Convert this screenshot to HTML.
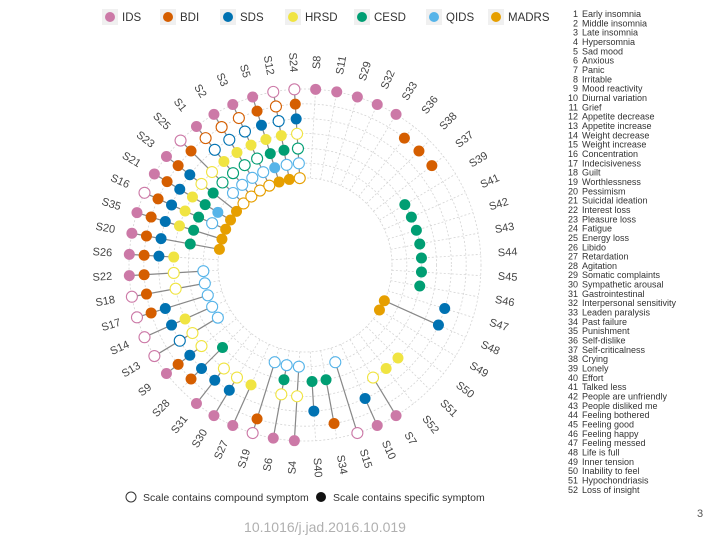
<!DOCTYPE html>
<html><head><meta charset="utf-8">
<style>
body{margin:0;background:#fff;width:720px;height:540px;overflow:hidden;font-family:"Liberation Sans",sans-serif;}
svg{display:block}
</style></head>
<body>
<svg id="chart" width="720" height="540" viewBox="0 0 720 540" xmlns="http://www.w3.org/2000/svg">
  <g id="grid"></g>
  <g id="marks"></g>
  <g id="labels"></g>
  <g id="legend"></g>
  <g id="shape-legend">
    <circle cx="131" cy="497" r="5" fill="#fff" stroke="#333" stroke-width="1"/>
    <text x="143" y="501" font-size="10.5" fill="#333">Scale contains compound symptom</text>
    <circle cx="321" cy="497" r="5" fill="#111"/>
    <text x="333" y="501" font-size="10.5" fill="#333">Scale contains specific symptom</text>
  </g>
  <g id="symlist"></g>
  <text x="325" y="532" text-anchor="middle" font-size="14" fill="#b0b0b0">10.1016/j.jad.2016.10.019</text>
  <text x="700" y="517" text-anchor="middle" font-size="11" fill="#555">3</text>
</svg>
<script>
const scales = ["IDS","BDI","SDS","HRSD","CESD","QIDS","MADRS"];
const scaleColors = ["#CC79A7","#D55E00","#0072B2","#F0E442","#009E73","#56B4E9","#E69F00"];
const spokes = ["S8","S11","S29","S32","S33","S36","S38","S37","S39","S41","S42","S43","S44","S45","S46","S47","S48","S49","S50","S51","S52","S7","S10","S15","S34","S40","S4","S6","S19","S27","S30","S31","S28","S9","S13","S14","S17","S18","S22","S26","S20","S35","S16","S21","S23","S25","S1","S2","S3","S5","S12","S24"];
// 0 = absent, 1 = compound (open), 2 = specific (filled); order IDS,BDI,SDS,HRSD,CESD,QIDS,MADRS
const membership = [
[2,0,0,0,0,0,0],[2,0,0,0,0,0,0],[2,0,0,0,0,0,0],[2,0,0,0,0,0,0],[2,0,0,0,0,0,0],
[0,2,0,0,0,0,0],[0,2,0,0,0,0,0],[0,2,0,0,0,0,0],
[0,0,0,0,2,0,0],[0,0,0,0,2,0,0],[0,0,0,0,2,0,0],[0,0,0,0,2,0,0],[0,0,0,0,2,0,0],[0,0,0,0,2,0,0],[0,0,0,0,2,0,0],
[0,0,2,0,0,0,0],[0,0,2,0,0,0,2],[0,0,0,0,0,0,2],[0,0,0,0,0,0,0],
[0,0,0,2,0,0,0],[0,0,0,2,0,0,0],[2,0,0,1,0,0,0],[2,0,2,0,0,0,0],[1,0,0,0,0,1,0],
[0,2,0,0,2,0,0],[0,0,2,0,2,0,0],[2,0,0,1,0,1,0],[2,0,0,1,2,1,0],[1,2,0,0,0,1,0],
[2,0,0,2,0,0,0],[2,0,2,1,0,0,0],[2,0,2,1,0,0,0],[0,2,2,0,2,0,0],[2,2,2,1,0,0,0],
[1,0,1,1,0,1,0],[1,0,2,2,0,1,0],[1,2,2,0,0,1,0],[1,2,0,1,0,1,0],[2,2,0,1,0,1,0],
[2,2,2,2,0,0,0],[2,2,2,0,2,0,2],[2,2,2,2,2,0,2],[1,2,2,2,2,1,2],[2,2,2,2,2,2,2],
[2,2,2,1,2,0,2],[1,2,0,1,1,1,1],[2,1,1,2,1,1,1],[2,1,1,2,1,1,1],[2,1,1,2,1,1,1],
[2,2,2,2,2,2,2],[1,1,1,2,2,1,2],[1,2,2,1,1,1,1]
];
const symptomNames = ["Early insomnia","Middle insomnia","Late insomnia","Hypersomnia","Sad mood","Anxious","Panic","Irritable","Mood reactivity","Diurnal variation","Grief","Appetite decrease","Appetite increase","Weight decrease","Weight increase","Concentration","Indecisiveness","Guilt","Worthlessness","Pessimism","Suicidal ideation","Interest loss","Pleasure loss","Fatigue","Energy loss","Libido","Retardation","Agitation","Somatic complaints","Sympathetic arousal","Gastrointestinal","Interpersonal sensitivity","Leaden paralysis","Past failure","Punishment","Self-dislike","Self-criticalness","Crying","Lonely","Effort","Talked less","People are unfriendly","People disliked me","Feeling bothered","Feeling good","Feeling happy","Feeling messed","Life is full","Inner tension","Inability to feel","Hypochondriasis","Loss of insight"];

const NS="http://www.w3.org/2000/svg";
const cx=305, cy=265, rOuter=176, rInner=87, rLabel=203;
const step=(rOuter-rInner)/(scales.length-1);
function rScale(k){return rOuter-k*step;}
function aScale(i){return (i+0.5)*360/spokes.length;}
function pt(r,deg){const a=deg*Math.PI/180;return [cx+r*Math.sin(a), cy-r*Math.cos(a)];}
function mk(tag,attrs,parent){const e=document.createElementNS(NS,tag);for(const k in attrs)e.setAttribute(k,attrs[k]);parent.appendChild(e);return e;}

const grid=document.getElementById('grid');
for(let k=0;k<scales.length;k++){
  const c=mk('circle',{cx:cx,cy:cy,r:rScale(k),fill:'none',stroke:'#d4d4d4','stroke-width':0.8,'stroke-dasharray':'2,2'},grid);
  
  
}
spokes.forEach((s,i)=>{
  const a=aScale(i);const p1=pt(rInner,a),p2=pt(rOuter,a);
  const l=mk('line',{x1:p1[0],y1:p1[1],x2:p2[0],y2:p2[1],stroke:'#d4d4d4','stroke-width':0.8,'stroke-dasharray':'2,2'},grid);
  
  
});

const marks=document.getElementById('marks');
spokes.forEach((s,i)=>{
  const a=aScale(i);const row=membership[i];
  const idx=[];row.forEach((v,k)=>{if(v)idx.push(k);});
  if(idx.length>1){
    const p1=pt(rScale(idx[0]),a),p2=pt(rScale(idx[idx.length-1]),a);
    const l=mk('line',{x1:p1[0],y1:p1[1],x2:p2[0],y2:p2[1],stroke:'#888','stroke-width':1.2},marks);
    
    
  }
});
spokes.forEach((s,i)=>{
  const a=aScale(i);
  membership[i].forEach((v,k)=>{
    if(!v)return;
    const p=pt(rScale(k),a);
    const c=mk('circle',{cx:p[0],cy:p[1],r:5.5},marks);
    if(v===2){c.setAttribute('fill',scaleColors[k]);}
    else{c.setAttribute('fill','#fff');c.setAttribute('stroke',scaleColors[k]);c.setAttribute('stroke-width',1.1);}
    
    
  });
});

const labels=document.getElementById('labels');
spokes.forEach((s,i)=>{
  const a=aScale(i);const p=pt(rLabel,a);
  const rot=a<=180?a-90:a+90;
  const t=mk('text',{x:p[0],y:p[1],'text-anchor':'middle','dominant-baseline':'central','font-size':11,fill:'#444',transform:`rotate(${rot} ${p[0]} ${p[1]})`},labels);
  t.textContent=s;
  
  
});

const legend=document.getElementById('legend');
const legendX=[110,168,228,293,362,434,496];
scales.forEach((s,k)=>{
  const g=mk('g',{},legend);
  
  
  mk('rect',{x:legendX[k]-8,y:9,width:16,height:16,fill:'#f0f0f0'},g);
  mk('circle',{cx:legendX[k],cy:17,r:5,fill:scaleColors[k]},g);
  const t=mk('text',{x:legendX[k]+12,y:21,'font-size':11.5,fill:'#333'},g);
  t.textContent=s;
});

const list=document.getElementById('symlist');
symptomNames.forEach((n,i)=>{
  const y=17+i*9.33;
  const t1=mk('text',{x:578,y:y,'text-anchor':'end','font-size':9,fill:'#333'},list);
  t1.textContent=String(i+1);
  
  
  const t2=mk('text',{x:582,y:y,'font-size':9,fill:'#333'},list);
  t2.textContent=n;
  
  
});
</script>
</body></html>
